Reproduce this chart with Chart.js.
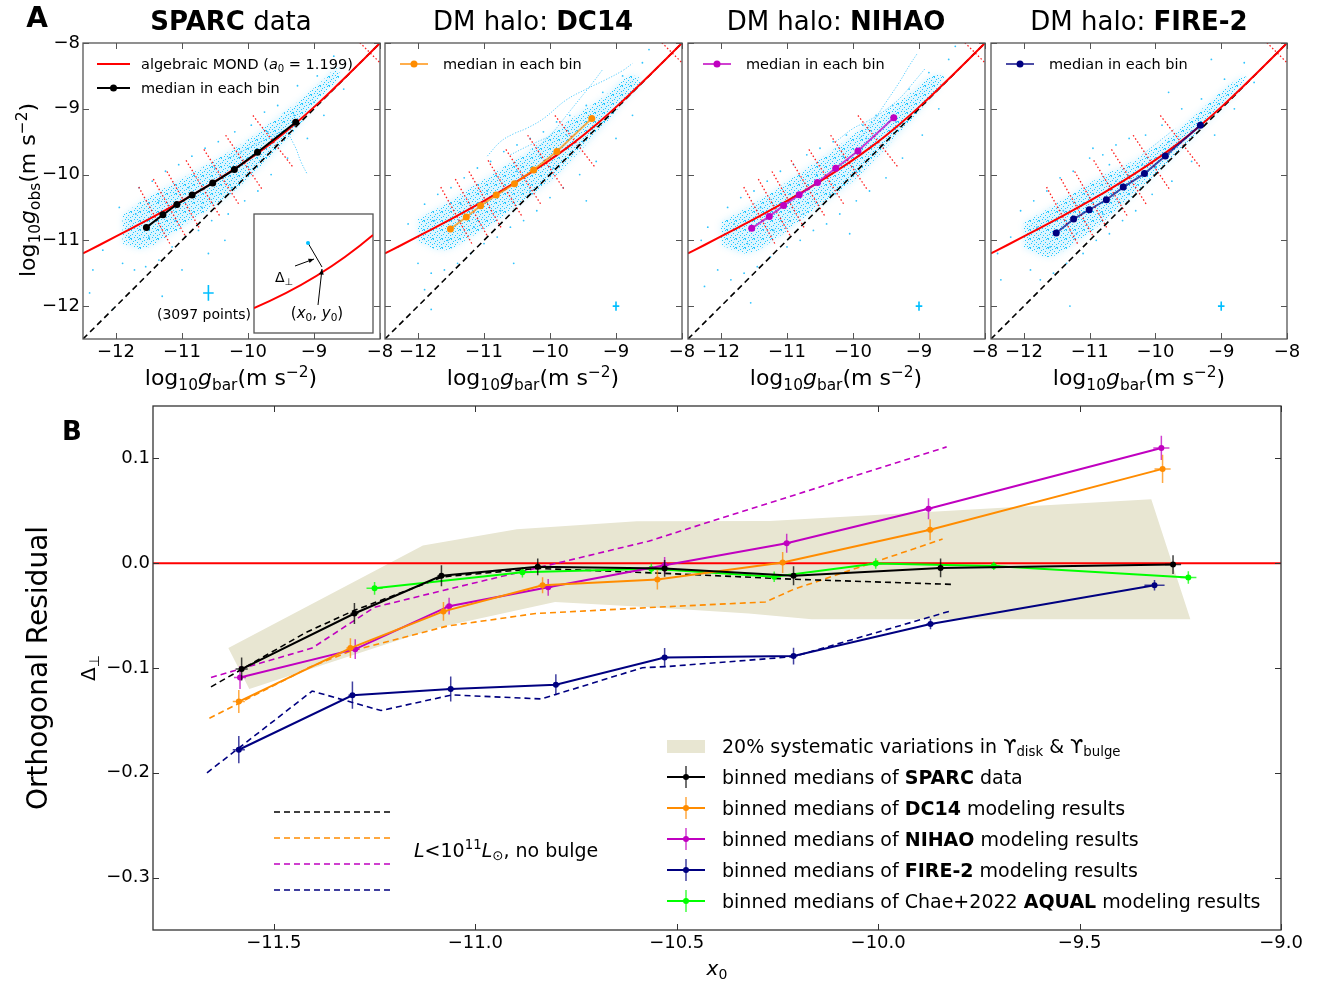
<!DOCTYPE html>
<html>
<head>
<meta charset="utf-8">
<title>RAR residuals</title>
<script src="https://cdn.jsdelivr.net/npm/chart.js@4.4.1/dist/chart.umd.min.js"></script>
<style>
  html, body { margin: 0; padding: 0; background: #fff; }
  body { position: relative; width: 1320px; height: 981px; overflow: hidden;
         font-family: "DejaVu Sans", sans-serif; color: #000; }
  canvas { position: absolute; }
  svg.marks { position: absolute; left: 0; top: 0; }
  .t { position: absolute; white-space: nowrap; line-height: 1; }
  .c { transform: translate(-50%, -50%); }
  .l { transform: translateY(-50%); }
  .v { transform: translate(-50%, -50%) rotate(-90deg); }
  sub { font-size: 70%; vertical-align: -0.3em; line-height: 0; }
  sup { font-size: 70%; vertical-align: 0.55em; line-height: 0; }
</style>
</head>
<body>
<canvas id="pA1" width="377" height="356" style="left:23px;top:23px"></canvas>
<canvas id="pA2" width="377" height="356" style="left:325px;top:23px"></canvas>
<canvas id="pA3" width="377" height="356" style="left:628px;top:23px"></canvas>
<canvas id="pA4" width="376" height="356" style="left:931px;top:23px"></canvas>
<canvas id="pB" width="1238" height="584" style="left:73px;top:386px"></canvas>

<svg class="marks" width="1320" height="981">
  <!-- panel A legends -->
  <line x1="97" y1="64" x2="130" y2="64" stroke="#ff0000" stroke-width="2"/>
  <line x1="97" y1="88" x2="130" y2="88" stroke="#000" stroke-width="2"/>
  <circle cx="113.5" cy="88" r="3.5" fill="#000"/>
  <line x1="400" y1="64" x2="428" y2="64" stroke="rgba(255,140,0,0.7)" stroke-width="2"/>
  <circle cx="414" cy="64" r="3.5" fill="#ff8c00"/>
  <line x1="703" y1="64" x2="731" y2="64" stroke="rgba(192,0,192,0.75)" stroke-width="2"/>
  <circle cx="717" cy="64" r="3.5" fill="#c000c0"/>
  <line x1="1006" y1="64" x2="1034" y2="64" stroke="rgba(0,0,128,0.7)" stroke-width="2"/>
  <circle cx="1020" cy="64" r="3.5" fill="#000080"/>

  <!-- panel B legend -->
  <rect x="667" y="740" width="38" height="13" fill="#e8e6d2"/>
  <g stroke-width="2">
    <line x1="667" y1="777" x2="705" y2="777" stroke="#000"/>
    <line x1="686" y1="766" x2="686" y2="788" stroke="#000" stroke-opacity="0.75" stroke-width="1.5"/>
    <circle cx="686" cy="777" r="3" fill="#000" stroke="none"/>
    <line x1="667" y1="808" x2="705" y2="808" stroke="#ff8c00"/>
    <line x1="686" y1="797" x2="686" y2="819" stroke="#ff8c00" stroke-opacity="0.75" stroke-width="1.5"/>
    <circle cx="686" cy="808" r="3" fill="#ff8c00" stroke="none"/>
    <line x1="667" y1="839" x2="705" y2="839" stroke="#c000c0"/>
    <line x1="686" y1="828" x2="686" y2="850" stroke="#c000c0" stroke-opacity="0.75" stroke-width="1.5"/>
    <circle cx="686" cy="839" r="3" fill="#c000c0" stroke="none"/>
    <line x1="667" y1="870" x2="705" y2="870" stroke="#000080"/>
    <line x1="686" y1="859" x2="686" y2="881" stroke="#000080" stroke-opacity="0.75" stroke-width="1.5"/>
    <circle cx="686" cy="870" r="3" fill="#000080" stroke="none"/>
    <line x1="667" y1="901" x2="705" y2="901" stroke="#00ff00"/>
    <line x1="686" y1="890" x2="686" y2="912" stroke="#00ff00" stroke-opacity="0.75" stroke-width="1.5"/>
    <circle cx="686" cy="901" r="3" fill="#00ff00" stroke="none"/>
  </g>
  <g stroke-width="1.6" stroke-dasharray="6 4">
    <line x1="274" y1="812" x2="393" y2="812" stroke="#000"/>
    <line x1="274" y1="838" x2="393" y2="838" stroke="#ff8c00"/>
    <line x1="274" y1="864" x2="393" y2="864" stroke="#c000c0"/>
    <line x1="274" y1="890" x2="393" y2="890" stroke="#000080"/>
  </g>
</svg>

<!-- panel A text -->
<div class="t c" style="left:37px;top:18px;font-size:28px;font-weight:bold">A</div>
<div class="t c" style="left:231px;top:21px;font-size:26px"><b>SPARC</b> data</div>
<div class="t c" style="left:533px;top:21px;font-size:26px">DM halo: <b>DC14</b></div>
<div class="t c" style="left:836px;top:21px;font-size:26px">DM halo: <b>NIHAO</b></div>
<div class="t c" style="left:1139px;top:21px;font-size:26px">DM halo: <b>FIRE-2</b></div>

<div class="t v" style="left:28px;top:190px;font-size:22px">log<sub>10</sub><i>g</i><sub>obs</sub>(m s<sup>−2</sup>)</div>
<div class="t c" style="left:231px;top:378px;font-size:22px">log<sub>10</sub><i>g</i><sub>bar</sub>(m s<sup>−2</sup>)</div>
<div class="t c" style="left:533px;top:378px;font-size:22px">log<sub>10</sub><i>g</i><sub>bar</sub>(m s<sup>−2</sup>)</div>
<div class="t c" style="left:836px;top:378px;font-size:22px">log<sub>10</sub><i>g</i><sub>bar</sub>(m s<sup>−2</sup>)</div>
<div class="t c" style="left:1139px;top:378px;font-size:22px">log<sub>10</sub><i>g</i><sub>bar</sub>(m s<sup>−2</sup>)</div>

<div class="t l" style="left:141px;top:64px;font-size:14.5px">algebraic MOND (<i>a</i><sub>0</sub> = 1.199)</div>
<div class="t l" style="left:141px;top:88px;font-size:14.5px">median in each bin</div>
<div class="t l" style="left:443px;top:64px;font-size:14.5px">median in each bin</div>
<div class="t l" style="left:746px;top:64px;font-size:14.5px">median in each bin</div>
<div class="t l" style="left:1049px;top:64px;font-size:14.5px">median in each bin</div>

<div class="t c" style="left:204px;top:314px;font-size:14px">(3097 points)</div>
<div class="t c" style="left:284px;top:277px;font-size:14px">Δ<sub>⊥</sub></div>
<div class="t c" style="left:317px;top:313px;font-size:15px">(<i>x</i><sub>0</sub>, <i>y</i><sub>0</sub>)</div>

<!-- panel B text -->
<div class="t c" style="left:72px;top:431px;font-size:26px;font-weight:bold">B</div>
<div class="t v" style="left:38px;top:668px;font-size:28px">Orthogonal Residual</div>
<div class="t v" style="left:88px;top:668px;font-size:20px">Δ<sub>⊥</sub></div>
<div class="t c" style="left:717px;top:968px;font-size:20px"><i>x</i><sub>0</sub></div>
<div class="t l" style="left:414px;top:850px;font-size:19px"><i>L</i>&lt;10<sup>11</sup><i>L</i><sub>⊙</sub>, no bulge</div>

<div class="t l" style="left:722px;top:746px;font-size:19px">20% systematic variations in ϒ<sub>disk</sub> &amp; ϒ<sub>bulge</sub></div>
<div class="t l" style="left:722px;top:777px;font-size:19px">binned medians of <b>SPARC</b> data</div>
<div class="t l" style="left:722px;top:808px;font-size:19px">binned medians of <b>DC14</b> modeling results</div>
<div class="t l" style="left:722px;top:839px;font-size:19px">binned medians of <b>NIHAO</b> modeling results</div>
<div class="t l" style="left:722px;top:870px;font-size:19px">binned medians of <b>FIRE-2</b> modeling results</div>
<div class="t l" style="left:722px;top:901px;font-size:19px">binned medians of Chae+2022 <b>AQUAL</b> modeling results</div>

<script>
// ---------- tick positions ----------
const ticksA  = [-12, -11, -10, -9, -8];
const ticksBx = [-11.5, -11.0, -10.5, -10.0, -9.5, -9.0];
const ticksBy = [-0.3, -0.2, -0.1, 0.0, 0.1];

// ---------- panel A: g_obs vs g_bar ----------
const mondX = [-12.5, -12.25, -12, -11.75, -11.5, -11.25, -11, -10.75, -10.5, -10.25,
               -10, -9.75, -9.5, -9.25, -9, -8.75, -8.5, -8.25, -8];
const mondY = [-11.199, -11.071, -10.941, -10.809, -10.676, -10.539, -10.399, -10.255, -10.104, -9.945,
               -9.777, -9.598, -9.405, -9.197, -8.975, -8.741, -8.497, -8.250, -8.0];
const diagX = [-12.5, -8];
// bin boundaries, given as the point where each one crosses the MOND curve
const binEdges = [-11.415, -11.19, -10.98, -10.68, -10.40, -10.06, -9.62, -8.15];

const sparcMedX = [-11.539, -11.289, -11.078, -10.846, -10.535, -10.207, -9.856, -9.277];
const sparcMedY = [-10.803, -10.611, -10.455, -10.312, -10.130, -9.924, -9.661, -9.206];
const dc14MedX  = [-11.509, -11.268, -11.052, -10.815, -10.539, -10.248, -9.896, -9.367];
const dc14MedY  = [-10.827, -10.646, -10.474, -10.312, -10.141, -9.929, -9.651, -9.146];
const nihaoMedX = [-11.535, -11.268, -11.052, -10.815, -10.539, -10.262, -9.925, -9.382];
const nihaoMedY = [-10.818, -10.636, -10.470, -10.308, -10.121, -9.903, -9.641, -9.136];
const fireMedX  = [-11.509, -11.244, -11.007, -10.746, -10.489, -10.167, -9.850, -9.317];
const fireMedY  = [-10.888, -10.676, -10.535, -10.383, -10.191, -9.985, -9.717, -9.252];

// typical error of a single point (x, y, dx, dy)
const sparcErrPt = [-10.6, -11.8, 0.08, 0.12];
const modelErrPt = [-9.0, -12.0, 0.05, 0.07];

// outline of the dense part of each point cloud
const sparcCloud = [[-11.9,-10.62],[-11.6,-10.4],[-11.2,-10.17],[-10.8,-9.95],[-10.4,-9.72],[-10.0,-9.47],
  [-9.6,-9.17],[-9.2,-8.86],[-8.85,-8.55],[-8.65,-8.38],[-8.62,-8.52],[-8.85,-8.78],[-9.2,-9.22],[-9.6,-9.66],
  [-10.0,-10.06],[-10.4,-10.4],[-10.8,-10.66],[-11.2,-10.93],[-11.6,-11.13],[-11.9,-11.05]];
const dc14Cloud = [[-12.0,-10.68],[-11.6,-10.45],[-11.2,-10.2],[-10.8,-9.95],[-10.4,-9.7],[-10.0,-9.4],
  [-9.6,-9.1],[-9.2,-8.83],[-8.8,-8.5],[-8.62,-8.57],[-8.9,-8.92],[-9.2,-9.27],[-9.6,-9.7],[-10.0,-10.1],
  [-10.4,-10.4],[-10.8,-10.7],[-11.2,-10.95],[-11.6,-11.15],[-12.0,-11.02]];
const nihaoCloud = [[-12.0,-10.72],[-11.6,-10.5],[-11.2,-10.25],[-10.8,-9.97],[-10.4,-9.7],[-10.0,-9.4],
  [-9.6,-9.1],[-9.2,-8.82],[-8.8,-8.5],[-8.62,-8.53],[-8.9,-8.92],[-9.2,-9.27],[-9.6,-9.7],[-10.0,-10.1],
  [-10.4,-10.4],[-10.8,-10.7],[-11.2,-11.0],[-11.6,-11.2],[-12.0,-11.07]];
const fireCloud = [[-12.0,-10.73],[-11.6,-10.5],[-11.2,-10.25],[-10.8,-10.02],[-10.4,-9.83],[-10.0,-9.58],
  [-9.6,-9.28],[-9.2,-8.92],[-8.8,-8.58],[-8.62,-8.52],[-8.9,-8.9],[-9.2,-9.2],[-9.6,-9.6],[-10.0,-9.99],
  [-10.4,-10.37],[-10.8,-10.72],[-11.2,-11.02],[-11.6,-11.25],[-12.0,-11.12]];

// scattered points outside the dense part
const sparcDots = [[-12.35,-11.45],[-12.2,-11.15],[-12.05,-12.05],[-11.95,-10.5],[-11.9,-11.35],[-11.8,-10.95],
  [-11.72,-11.45],[-11.65,-10.2],[-11.55,-11.4],[-11.45,-10.1],[-11.35,-11.3],[-11.25,-9.95],[-11.15,-11.1],
  [-11.05,-9.85],[-10.95,-10.95],[-10.85,-9.72],[-10.75,-10.85],[-10.65,-9.6],[-10.55,-10.7],[-10.45,-9.5],
  [-10.35,-11.0],[-10.3,-10.6],[-10.2,-9.35],[-10.05,-10.4],[-9.95,-9.25],[-9.85,-10.25],[-9.75,-9.05],
  [-9.65,-10.0],[-9.55,-8.95],[-9.4,-9.75],[-9.25,-8.65],[-9.1,-9.45],[-8.95,-8.5],[-8.85,-9.1],[-8.7,-8.2],
  [-8.55,-8.7],[-11.0,-11.45],[-10.6,-11.2],[-12.4,-11.8],[-11.3,-11.85],
  [-11.7,-10.6],[-11.5,-10.95],[-11.35,-10.4],[-11.1,-10.7],[-10.9,-10.2],[-10.7,-10.5],[-10.5,-9.9],
  [-10.25,-10.2],[-10.1,-9.65],[-9.9,-9.9],[-9.7,-9.35],[-9.45,-9.45],[-9.3,-9.1],[-9.0,-8.9]];
const dc14Dots = [[-12.3,-11.1],[-12.15,-10.75],[-12.0,-11.35],[-11.9,-10.45],[-11.8,-11.5],[-11.7,-10.3],
  [-11.6,-11.45],[-11.5,-10.2],[-11.4,-11.35],[-11.3,-10.05],[-11.2,-11.2],[-11.1,-9.9],[-11.0,-11.05],
  [-10.9,-9.8],[-10.8,-10.95],[-10.7,-9.65],[-10.6,-10.8],[-10.5,-9.55],[-10.4,-10.7],[-10.3,-9.45],
  [-10.2,-10.55],[-10.1,-9.35],[-10.0,-10.35],[-9.9,-9.2],[-9.8,-10.2],[-9.7,-9.1],[-9.55,-10.0],
  [-9.45,-8.95],[-9.3,-9.8],[-9.2,-8.75],[-9.0,-9.45],[-8.9,-8.5],[-8.75,-9.1],[-8.6,-8.3],[-11.8,-12.05],
  [-10.55,-11.35],[-9.45,-10.4],[-11.9,-11.75],[-8.5,-8.1],
  [-11.75,-10.7],[-11.55,-11.0],[-11.35,-10.45],[-11.15,-10.8],[-10.95,-10.25],[-10.75,-10.55],
  [-10.5,-9.95],[-10.3,-10.25],[-10.15,-9.7],[-9.95,-9.9],[-9.75,-9.4],[-9.5,-9.5],[-9.35,-9.15]];
const nihaoDots = [[-12.3,-11.0],[-12.2,-10.8],[-12.05,-11.45],[-11.9,-10.5],[-11.85,-11.6],[-11.7,-10.35],
  [-11.65,-11.5],[-11.5,-10.25],[-11.45,-11.4],[-11.3,-10.1],[-11.25,-11.25],[-11.1,-9.95],[-11.0,-11.1],
  [-10.9,-9.85],[-10.8,-11.0],[-10.7,-9.7],[-10.6,-10.85],[-10.5,-9.6],[-10.4,-10.75],[-10.3,-9.5],
  [-10.2,-10.6],[-10.1,-9.4],[-9.95,-10.4],[-9.85,-9.25],[-9.75,-10.25],[-9.65,-9.1],[-9.5,-10.05],
  [-9.4,-8.95],[-9.25,-9.75],[-9.15,-8.7],[-8.95,-9.4],[-8.85,-8.45],[-8.7,-9.0],[-8.55,-8.25],
  [-11.55,-11.95],[-10.05,-10.9],[-9.9,-9.95],[-12.25,-11.7],[-8.45,-8.05],
  [-11.8,-10.75],[-11.6,-11.05],[-11.4,-10.5],[-11.2,-10.85],[-10.95,-10.3],[-10.75,-10.6],
  [-10.55,-10.0],[-10.35,-10.3],[-10.15,-9.72],[-9.95,-9.95],[-9.8,-9.45],[-9.55,-9.55],[-9.35,-9.2]];
const fireDots = [[-12.35,-11.6],[-12.2,-10.95],[-12.05,-10.55],[-11.9,-11.45],[-11.85,-10.4],[-11.75,-11.6],
  [-11.65,-10.25],[-11.55,-11.5],[-11.45,-10.05],[-11.35,-11.35],[-11.25,-9.95],[-11.1,-11.2],[-11.0,-9.75],
  [-10.9,-11.0],[-10.8,-9.7],[-10.7,-10.9],[-10.6,-9.55],[-10.5,-10.7],[-10.4,-9.45],[-10.3,-10.55],
  [-10.15,-9.4],[-10.05,-10.3],[-9.9,-9.25],[-9.75,-10.1],[-9.6,-9.0],[-9.45,-9.8],[-9.3,-8.85],[-9.1,-9.4],
  [-8.95,-8.55],[-8.8,-9.0],[-8.65,-8.3],[-8.5,-8.6],[-11.3,-12.0],[-9.8,-8.75],[-9.15,-8.25],[-12.4,-11.2],
  [-10.95,-9.6],[-10.7,-9.85],
  [-11.8,-10.8],[-11.6,-11.1],[-11.4,-10.55],[-11.2,-10.9],[-11.0,-10.35],[-10.8,-10.6],[-10.6,-10.1],
  [-10.4,-10.3],[-10.2,-9.85],[-10.0,-9.9],[-9.8,-9.5],[-9.55,-9.45],[-9.35,-9.15]];

// thin tracks traced by single rotation curves
const sparcStreaks = [
  [[-10.3,-9.75],[-10.0,-9.6],[-9.7,-9.45],[-9.45,-9.35],[-9.3,-9.55],[-9.2,-9.8],[-9.1,-10.0]]
];
const dc14Streaks = [
  [[-10.95,-9.72],[-10.75,-9.5],[-10.55,-9.38],[-10.36,-9.3],[-10.1,-9.15],[-9.76,-8.87],[-9.45,-8.7],
   [-9.16,-8.56],[-8.9,-8.42],[-8.75,-8.31]],
  [[-10.2,-9.6],[-9.95,-9.35],[-9.75,-9.1],[-9.55,-8.85],[-9.35,-8.6],[-9.2,-8.4]],
  [[-10.6,-9.7],[-10.3,-9.55],[-10.0,-9.42]]
];
const nihaoStreaks = [
  [[-10.26,-9.5],[-10.0,-9.3],[-9.8,-9.2],[-9.55,-9.05],[-9.3,-8.85],[-9.1,-8.62],[-8.9,-8.38]],
  [[-9.9,-9.45],[-9.7,-9.2],[-9.5,-8.9],[-9.3,-8.6],[-9.15,-8.35],[-9.02,-8.15]]
];
const fireStreaks = [
  [[-10.2,-9.7],[-9.95,-9.5],[-9.7,-9.3]]
];

// ---------- panel B: orthogonal residuals ----------
const sparcX    = [-11.580, -11.300, -11.084, -10.845, -10.530, -10.210, -9.845, -9.268];
const sparcY    = [-0.101, -0.048, -0.012, -0.0035, -0.005, -0.012, -0.0045, -0.0013];
const sparcErrY = [0.011, 0.010, 0.010, 0.008, 0.008, 0.009, 0.009, 0.009];
const sparcErrX = [0.015, 0.01, 0.01, 0.01, 0.01, 0.01, 0.01, 0.02];

const dc14X    = [-11.587, -11.310, -11.079, -10.833, -10.548, -10.237, -9.871, -9.294];
const dc14Y    = [-0.132, -0.081, -0.046, -0.021, -0.0156, 0.0006, 0.032, 0.090];
const dc14ErrY = [0.011, 0.0095, 0.009, 0.0076, 0.0095, 0.010, 0.010, 0.0135];
const dc14ErrX = [0.015, 0.01, 0.01, 0.01, 0.01, 0.01, 0.01, 0.02];

const nihaoX    = [-11.584, -11.298, -11.065, -10.819, -10.530, -10.227, -9.875, -9.297];
const nihaoY    = [-0.109, -0.082, -0.041, -0.023, -0.002, 0.019, 0.052, 0.110];
const nihaoErrY = [0.011, 0.0095, 0.008, 0.008, 0.008, 0.009, 0.010, 0.0115];
const nihaoErrX = [0.015, 0.01, 0.01, 0.01, 0.01, 0.01, 0.01, 0.02];

const fireX    = [-11.587, -11.305, -11.061, -10.800, -10.530, -10.210, -9.870, -9.314];
const fireY    = [-0.178, -0.126, -0.120, -0.116, -0.090, -0.0886, -0.058, -0.021];
const fireErrY = [0.013, 0.013, 0.012, 0.010, 0.009, 0.008, 0.005, 0.005];
const fireErrX = [0.015, 0.01, 0.01, 0.01, 0.01, 0.01, 0.01, 0.025];

const aqualX    = [-11.250, -10.883, -10.563, -10.258, -10.006, -9.713, -9.230];
const aqualY    = [-0.024, -0.0086, -0.0054, -0.013, -0.0003, -0.0026, -0.0137];
const aqualErrY = [0.006, 0.005, 0.005, 0.005, 0.005, 0.004, 0.006];
const aqualErrX = [0.02, 0.015, 0.015, 0.015, 0.015, 0.015, 0.02];

// L < 1e11 Lsun, no bulge subsample
const sparcLowX = [-11.656, -11.42, -11.30, -11.08, -10.845, -10.53, -10.21, -9.81];
const sparcLowY = [-0.118, -0.066, -0.045, -0.013, -0.005, -0.0097, -0.0153, -0.0203];
const dc14LowX  = [-11.66, -11.41, -11.31, -11.07, -10.85, -10.55, -10.28, -10.21, -9.84];
const dc14LowY  = [-0.148, -0.099, -0.084, -0.060, -0.048, -0.042, -0.037, -0.025, 0.023];
const nihaoLowX = [-11.656, -11.405, -11.25, -11.08, -10.83, -10.57, -9.83];
const nihaoLowY = [-0.109, -0.081, -0.042, -0.026, -0.003, 0.021, 0.111];
const fireLowX  = [-11.666, -11.405, -11.234, -11.058, -10.836, -10.585, -10.527, -10.21, -9.819];
const fireLowY  = [-0.200, -0.122, -0.1406, -0.1257, -0.1295, -0.0997, -0.0987, -0.0892, -0.0454];

// envelope of 20% stellar mass-to-light variations (upper edge then lower edge)
const bandX = [-11.613, -11.13, -10.897, -10.599, -10.269, -9.322, -9.225,
               -10.165, -10.321, -10.566, -10.802, -11.1, -11.561];
const bandY = [-0.081, 0.017, 0.0324, 0.040, 0.0403, 0.061, -0.0536,
               -0.0536, -0.048, -0.042, -0.037, -0.062, -0.120];

// ---------- helpers ----------
const FONT = '"DejaVu Sans", sans-serif';
Chart.defaults.font.family = FONT;
Chart.defaults.color = '#000';

const pts = (xs, ys) => xs.map((x, i) => ({ x, y: ys[i] }));
const pairs = a => a.map(([x, y]) => ({ x, y }));
const fmt = (v, d) => {
  if (Math.abs(v) < 1e-9) v = 0;
  return v.toFixed(d).replace('-', '\u2212');
};

// grainy fill for the dense cloud: fixed pixel layout in a small repeating tile
const grainTile = [[0,0],[4,1],[7,0],[2,2],[6,3],[1,4],[4,5],[8,5],[3,7],[6,7],[0,8],[8,8]];
function grainPattern() {
  const c = document.createElement('canvas');
  c.width = 9; c.height = 9;
  const g = c.getContext('2d');
  g.fillStyle = 'rgba(0,191,255,0.85)';
  grainTile.forEach(([x, y]) => g.fillRect(x, y, 1, 1));
  return g.createPattern(c, 'repeat');
}

function curveAt(x) {
  for (let i = 0; i < mondX.length - 1; i++) {
    if (x <= mondX[i + 1]) {
      const t = (x - mondX[i]) / (mondX[i + 1] - mondX[i]);
      return mondY[i] + t * (mondY[i + 1] - mondY[i]);
    }
  }
  return mondY[mondY.length - 1];
}

// short segment normal to the MOND curve, one unit long
function edgeSegment(x0) {
  const y0 = curveAt(x0);
  const s = (curveAt(x0 + 0.05) - curveAt(x0 - 0.05)) / 0.1;
  const n = Math.hypot(1, s);
  const dx = 0.5 * s / n, dy = 0.5 / n;
  return [{ x: x0 - dx, y: y0 + dy }, { x: x0 + dx, y: y0 - dy }];
}

// box around the plot area with inward ticks on all four sides
const frame = {
  id: 'frame',
  afterDatasetsDraw(chart, args, opts) {
    const { ctx, chartArea: a, scales: { x, y } } = chart;
    const len = opts.len || 6;
    ctx.save();
    ctx.strokeStyle = opts.color || '#444';
    ctx.lineWidth = 1;
    ctx.beginPath();
    x.ticks.forEach(t => {
      const px = Math.round(x.getPixelForValue(t.value)) + 0.5;
      ctx.moveTo(px, a.bottom); ctx.lineTo(px, a.bottom - len);
      ctx.moveTo(px, a.top); ctx.lineTo(px, a.top + len);
    });
    y.ticks.forEach(t => {
      const py = Math.round(y.getPixelForValue(t.value)) + 0.5;
      ctx.moveTo(a.left, py); ctx.lineTo(a.left + len, py);
      ctx.moveTo(a.right, py); ctx.lineTo(a.right - len, py);
    });
    ctx.stroke();
    ctx.lineWidth = opts.width || 1.3;
    ctx.strokeRect(a.left, a.top, a.width, a.height);
    ctx.restore();
  }
};

// error bars taken from errX / errY on a dataset
const errorBars = {
  id: 'errorBars',
  beforeDatasetDraw(chart, args) {
    const ds = chart.data.datasets[args.index];
    if (!ds.errY && !ds.errX) return;
    const { ctx, scales: { x, y } } = chart;
    ctx.save();
    ctx.strokeStyle = ds.errColor || ds.borderColor;
    ctx.globalAlpha = ds.errAlpha || 0.75;
    ctx.lineWidth = ds.errWidth || 1.5;
    ctx.beginPath();
    ds.data.forEach((p, i) => {
      const px = x.getPixelForValue(p.x), py = y.getPixelForValue(p.y);
      if (ds.errY) {
        ctx.moveTo(px, y.getPixelForValue(p.y - ds.errY[i]));
        ctx.lineTo(px, y.getPixelForValue(p.y + ds.errY[i]));
      }
      if (ds.errX) {
        ctx.moveTo(x.getPixelForValue(p.x - ds.errX[i]), py);
        ctx.lineTo(x.getPixelForValue(p.x + ds.errX[i]), py);
      }
    });
    ctx.stroke();
    ctx.restore();
  }
};

// soft edges for the cloud outline (drawn first, filter removed right after)
const haze = {
  id: 'haze',
  beforeDatasetsDraw(chart) {
    if (chart.data.datasets.some(d => d.haze)) chart.ctx.filter = 'blur(3px)';
  },
  afterDatasetDraw(chart, args) {
    if (chart.data.datasets[args.index].haze) chart.ctx.filter = 'none';
  }
};

// small sketch of the orthogonal projection in the SPARC panel
const inset = {
  id: 'inset',
  afterDraw(chart) {
    const { ctx, chartArea: a } = chart;
    const s = 119, bx = a.right - 126, by = a.bottom - 125;
    ctx.save();
    ctx.fillStyle = '#fff';
    ctx.fillRect(bx, by, s, s);
    ctx.strokeStyle = '#555';
    ctx.lineWidth = 1.3;
    ctx.strokeRect(bx, by, s, s);
    ctx.beginPath(); ctx.rect(bx, by, s, s); ctx.clip();
    ctx.strokeStyle = '#ff0000'; ctx.lineWidth = 2;
    ctx.beginPath();
    ctx.moveTo(bx, by + 94);
    ctx.quadraticCurveTo(bx + 66, by + 66, bx + s, by + 21);
    ctx.stroke();
    ctx.strokeStyle = '#000'; ctx.lineWidth = 1;
    ctx.beginPath(); ctx.moveTo(bx + 54, by + 29); ctx.lineTo(bx + 68, by + 53); ctx.stroke();
    const arrow = (x1, y1, x2, y2) => {
      const ang = Math.atan2(y2 - y1, x2 - x1);
      ctx.beginPath(); ctx.moveTo(bx + x1, by + y1); ctx.lineTo(bx + x2, by + y2); ctx.stroke();
      ctx.beginPath();
      ctx.moveTo(bx + x2, by + y2);
      ctx.lineTo(bx + x2 - 6 * Math.cos(ang - 0.4), by + y2 - 6 * Math.sin(ang - 0.4));
      ctx.lineTo(bx + x2 - 6 * Math.cos(ang + 0.4), by + y2 - 6 * Math.sin(ang + 0.4));
      ctx.closePath(); ctx.fillStyle = '#000'; ctx.fill();
    };
    arrow(41, 52, 60, 45);
    arrow(64, 91, 68, 55);
    ctx.fillStyle = '#00bfff';
    ctx.beginPath(); ctx.arc(bx + 54, by + 29, 2, 0, Math.PI * 2); ctx.fill();
    ctx.restore();
  }
};

function axis(min, max, tickVals, digits, fit, showLabels) {
  return {
    type: 'linear', min, max,
    grid: { display: false, drawTicks: false },
    border: { display: false },
    afterFit: fit,
    afterBuildTicks(scale) { scale.ticks = tickVals.map(v => ({ value: v })); },
    ticks: {
      display: showLabels !== false, autoSkip: false, maxRotation: 0,
      font: { size: 18 }, color: '#000', padding: 3,
      callback: v => fmt(v, digits)
    }
  };
}

// ---------- panel A charts ----------
const panelsA = [
  { id: 'pA1', medX: sparcMedX, medY: sparcMedY, color: '#000000', line: '#000000',
    cloud: sparcCloud, dots: sparcDots, streaks: sparcStreaks, err: sparcErrPt, yLabels: true },
  { id: 'pA2', medX: dc14MedX, medY: dc14MedY, color: '#ff8c00', line: 'rgba(255,140,0,0.7)',
    cloud: dc14Cloud, dots: dc14Dots, streaks: dc14Streaks, err: modelErrPt, yLabels: false },
  { id: 'pA3', medX: nihaoMedX, medY: nihaoMedY, color: '#c000c0', line: 'rgba(192,0,192,0.75)',
    cloud: nihaoCloud, dots: nihaoDots, streaks: nihaoStreaks, err: modelErrPt, yLabels: false },
  { id: 'pA4', medX: fireMedX, medY: fireMedY, color: '#000080', line: 'rgba(0,0,128,0.7)',
    cloud: fireCloud, dots: fireDots, streaks: fireStreaks, err: modelErrPt, yLabels: false }
];

panelsA.forEach((p, k) => {
  const ds = [];
  ds.push({ data: pairs(p.cloud), showLine: true, fill: 'shape', backgroundColor: 'rgba(40,190,255,0.16)',
            borderWidth: 0, pointRadius: 0, tension: 0.35, haze: true, order: 99 });
  ds.push({ data: pairs(p.cloud), showLine: true, fill: 'shape', backgroundColor: grainPattern(),
            borderWidth: 0, pointRadius: 0, tension: 0.35, order: 98 });
  ds.push({ data: pairs(p.dots), pointRadius: 0.9, pointBackgroundColor: '#2ec4ff',
            pointBorderWidth: 0, order: 90 });
  p.streaks.forEach(s => ds.push({ data: pairs(s), showLine: true, borderColor: '#55ccff', borderWidth: 1,
            borderDash: [1.2, 1.6], pointRadius: 0, tension: 0.4, order: 85 }));
  binEdges.forEach(e => ds.push({ data: edgeSegment(e), showLine: true, borderColor: '#ff1a1a',
            borderWidth: 1.3, borderDash: [1.5, 2.2], pointRadius: 0, order: 80 }));
  ds.push({ data: pts(diagX, diagX), showLine: true, borderColor: '#000', borderWidth: 1.6,
            borderDash: [6, 4], pointRadius: 0, order: 70 });
  ds.push({ data: pts(mondX, mondY), showLine: true, borderColor: '#ff0000', borderWidth: 2,
            pointRadius: 0, cubicInterpolationMode: 'monotone', order: 60 });
  ds.push({ data: pts(p.medX, p.medY), showLine: true, borderColor: p.line, borderWidth: 2,
            pointRadius: 3.5, pointBackgroundColor: p.color, pointBorderWidth: 0, order: 50 });
  ds.push({ data: [{ x: p.err[0], y: p.err[1] }], pointRadius: 0, errX: [p.err[2]], errY: [p.err[3]],
            errColor: '#00bfff', errAlpha: 1, errWidth: 1.6, order: 40 });

  const plugins = [haze, errorBars, frame];
  if (k === 0) plugins.push(inset);

  new Chart(document.getElementById(p.id), {
    type: 'scatter',
    data: { datasets: ds },
    options: {
      responsive: false, animation: false, devicePixelRatio: 1, events: [],
      layout: { padding: { top: 20, right: 20, left: 0, bottom: 0 } },
      plugins: { legend: { display: false }, tooltip: { enabled: false },
                 frame: { color: '#555', len: 6, width: 1.3 } },
      scales: {
        x: axis(-12.5, -8, ticksA, 0, s => { s.height = 40; }),
        y: axis(-12.5, -8, ticksA, 0, s => { s.width = 60; }, p.yLabels)
      }
    },
    plugins
  });
});

// ---------- panel B chart ----------
const seriesB = [
  { x: sparcX, y: sparcY, ey: sparcErrY, ex: sparcErrX, c: '#000000' },
  { x: dc14X, y: dc14Y, ey: dc14ErrY, ex: dc14ErrX, c: '#ff8c00' },
  { x: nihaoX, y: nihaoY, ey: nihaoErrY, ex: nihaoErrX, c: '#c000c0' },
  { x: fireX, y: fireY, ey: fireErrY, ex: fireErrX, c: '#000080' },
  { x: aqualX, y: aqualY, ey: aqualErrY, ex: aqualErrX, c: '#00ff00' }
];
const lowB = [
  { x: sparcLowX, y: sparcLowY, c: '#000000' },
  { x: dc14LowX, y: dc14LowY, c: '#ff8c00' },
  { x: nihaoLowX, y: nihaoLowY, c: '#c000c0' },
  { x: fireLowX, y: fireLowY, c: '#000080' }
];

const dsB = [];
dsB.push({ data: pts(bandX, bandY), showLine: true, fill: 'shape', backgroundColor: '#e8e6d2',
           borderWidth: 0, pointRadius: 0, order: 99 });
dsB.push({ data: [{ x: -11.8, y: 0 }, { x: -9.0, y: 0 }], showLine: true, borderColor: '#ff0000',
           borderWidth: 2, pointRadius: 0, order: 90 });
lowB.forEach(s => dsB.push({ data: pts(s.x, s.y), showLine: true, borderColor: s.c, borderWidth: 1.6,
           borderDash: [6, 4], pointRadius: 0, order: 80 }));
seriesB.forEach(s => dsB.push({ data: pts(s.x, s.y), showLine: true, borderColor: s.c, borderWidth: 2,
           pointRadius: 3, pointBackgroundColor: s.c, pointBorderWidth: 0,
           errY: s.ey, errX: s.ex, order: 50 }));

new Chart(document.getElementById('pB'), {
  type: 'scatter',
  data: { datasets: dsB },
  options: {
    responsive: false, animation: false, devicePixelRatio: 1, events: [],
    layout: { padding: { top: 20, right: 30, left: 0, bottom: 0 } },
    plugins: { legend: { display: false }, tooltip: { enabled: false },
               frame: { color: '#333', len: 6, width: 1.3 } },
    scales: {
      x: axis(-11.8, -9.0, ticksBx, 1, s => { s.height = 40; }),
      y: axis(-0.35, 0.15, ticksBy, 1, s => { s.width = 80; })
    }
  },
  plugins: [errorBars, frame]
});
</script>
</body>
</html>
